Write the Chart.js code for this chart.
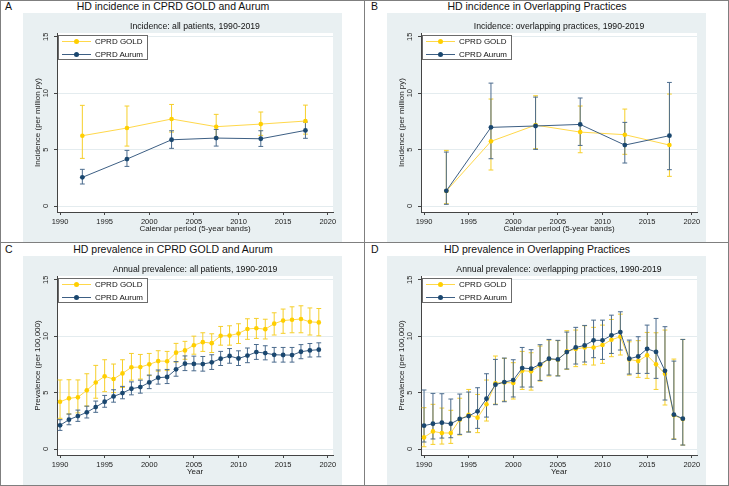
<!DOCTYPE html>
<html>
<head>
<meta charset="utf-8">
<title>HD incidence and prevalence in CPRD GOLD and Aurum</title>
<script src="https://cdn.jsdelivr.net/npm/chart.js@4.4.1/dist/chart.umd.min.js"></script>
<style>
  body { margin: 0; background: #fff; }
  #fig { position: relative; width: 729px; height: 486px; font-family: "Liberation Sans", Arial, sans-serif; color: #111; overflow: hidden; }
  .cell { position: absolute; width: 364px; height: 243px; }
  .letter { position: absolute; top: 0; font-size: 10.5px; line-height: 12px; }
  .title { position: absolute; left: 0; width: 346px; top: 0; text-align: center; font-size: 10.5px; line-height: 12px; white-space: nowrap; }
  .region { position: absolute; left: 23px; top: 13px; width: 319px; height: 229px; background: #e9f0f2; }
  .region canvas { position: absolute; left: 0; top: 0; }
  .sub { position: absolute; left: 57px; width: 276px; top: 21px; text-align: center; font-size: 8.7px; line-height: 10px; white-space: nowrap; }
  .legend { position: absolute; left: 58px; top: 35px; width: 88px; height: 23px; border: 1px solid #6b6b6b; background: #fff; }
  .legend .row { position: absolute; left: 0; width: 88px; height: 12px; }
  .legend .ln { position: absolute; left: 3px; width: 29px; top: 5px; height: 1px; }
  .legend .dot { position: absolute; left: 14.5px; top: 3px; width: 5px; height: 5px; border-radius: 50%; }
  .legend .txt { position: absolute; left: 36px; top: 1px; font-size: 8px; line-height: 10px; white-space: nowrap; }
  .gold .ln { background: #ffd84a; }
  .gold .dot { background: #ffcf00; }
  .aurum .ln { background: #3d5f84; }
  .aurum .dot { background: #1a476f; }
  .line { position: absolute; background: #7f7f7f; }
</style>
</head>
<body>
<div id="fig">
  <div class="cell" style="left:0;top:0">
    <div class="letter" style="left:5px">A</div>
    <div class="title">HD incidence in CPRD GOLD and Aurum</div>
    <div class="region"><canvas id="cA" width="319" height="229"></canvas></div>
    <div class="sub">Incidence: all patients, 1990-2019</div>
    <div class="legend">
      <div class="row gold" style="top:0"><div class="ln"></div><div class="dot"></div><div class="txt">CPRD GOLD</div></div>
      <div class="row aurum" style="top:13px"><div class="ln"></div><div class="dot"></div><div class="txt">CPRD Aurum</div></div>
    </div>
  </div>
  <div class="cell" style="left:364px;top:0">
    <div class="letter" style="left:7px">B</div>
    <div class="title">HD incidence in Overlapping Practices</div>
    <div class="region"><canvas id="cB" width="319" height="229"></canvas></div>
    <div class="sub">Incidence: overlapping practices, 1990-2019</div>
    <div class="legend">
      <div class="row gold" style="top:0"><div class="ln"></div><div class="dot"></div><div class="txt">CPRD GOLD</div></div>
      <div class="row aurum" style="top:13px"><div class="ln"></div><div class="dot"></div><div class="txt">CPRD Aurum</div></div>
    </div>
  </div>
  <div class="cell" style="left:0;top:243px">
    <div class="letter" style="left:5px">C</div>
    <div class="title">HD prevalence in CPRD GOLD and Aurum</div>
    <div class="region"><canvas id="cC" width="319" height="229"></canvas></div>
    <div class="sub">Annual prevalence: all patients, 1990-2019</div>
    <div class="legend">
      <div class="row gold" style="top:0"><div class="ln"></div><div class="dot"></div><div class="txt">CPRD GOLD</div></div>
      <div class="row aurum" style="top:13px"><div class="ln"></div><div class="dot"></div><div class="txt">CPRD Aurum</div></div>
    </div>
  </div>
  <div class="cell" style="left:364px;top:243px">
    <div class="letter" style="left:7px">D</div>
    <div class="title">HD prevalence in Overlapping Practices</div>
    <div class="region"><canvas id="cD" width="319" height="229"></canvas></div>
    <div class="sub">Annual prevalence: overlapping practices, 1990-2019</div>
    <div class="legend">
      <div class="row gold" style="top:0"><div class="ln"></div><div class="dot"></div><div class="txt">CPRD GOLD</div></div>
      <div class="row aurum" style="top:13px"><div class="ln"></div><div class="dot"></div><div class="txt">CPRD Aurum</div></div>
    </div>
  </div>
  <div class="line" style="left:0;top:0;width:1px;height:486px"></div>
  <div class="line" style="left:728px;top:0;width:1px;height:486px"></div>
  <div class="line" style="left:0;top:0;width:729px;height:1px"></div>
  <div class="line" style="left:0;top:485px;width:729px;height:1px"></div>
  <div class="line" style="left:364px;top:0;width:1px;height:486px"></div>
  <div class="line" style="left:0;top:242px;width:729px;height:1px"></div>
</div>

<script>
// x values
var periods = [1992.5, 1997.5, 2002.5, 2007.5, 2012.5, 2017.5]
var years = [1990, 1991, 1992, 1993, 1994, 1995, 1996, 1997, 1998, 1999,
             2000, 2001, 2002, 2003, 2004, 2005, 2006, 2007, 2008, 2009,
             2010, 2011, 2012, 2013, 2014, 2015, 2016, 2017, 2018, 2019]
var xTicks = [1990, 1995, 2000, 2005, 2010, 2015, 2020]
var yTicks = [0, 5, 10, 15]

// A: incidence, all patients
var incAllGold = [6.23, 6.91, 7.71, 7.03, 7.26, 7.53]
var incAllGoldLo = [4.22, 5.31, 6.55, 6.08, 6.26, 6.37]
var incAllGoldHi = [8.92, 8.86, 9.0, 8.12, 8.33, 8.94]
var incAllAurum = [2.54, 4.16, 5.87, 6.02, 5.96, 6.70]
var incAllAurumLo = [1.95, 3.51, 5.11, 5.31, 5.28, 6.0]
var incAllAurumHi = [3.25, 4.93, 6.67, 6.79, 6.67, 7.44]

// B: incidence, overlapping practices
var incOvGold = [1.33, 5.73, 7.17, 6.55, 6.32, 5.40]
var incOvGoldLo = [0.21, 3.19, 5.08, 4.72, 4.58, 2.63]
var incOvGoldHi = [4.93, 9.48, 9.77, 8.86, 8.59, 9.92]
var incOvAurum = [1.35, 6.97, 7.09, 7.23, 5.40, 6.23]
var incOvAurumLo = [0.15, 4.19, 5.02, 5.37, 3.81, 3.22]
var incOvAurumHi = [4.78, 10.89, 9.65, 9.57, 7.41, 10.95]

// C: prevalence, all patients
var prevAllGold = [4.19, 4.49, 4.58, 5.2, 5.9, 6.44, 6.2, 6.7, 7.24, 7.26,
                   7.5, 7.79, 7.78, 8.54, 8.74, 9.2, 9.47, 9.38, 10.03, 10.05,
                   10.24, 10.64, 10.7, 10.62, 11.11, 11.38, 11.45, 11.52, 11.27, 11.22]
var prevAllGoldLo = [2.72, 3.1, 3.2, 3.8, 4.5, 5.08, 5.0, 5.45, 6.1, 6.2,
                     6.5, 6.9, 6.95, 7.7, 7.95, 8.4, 8.65, 8.55, 9.2, 9.2,
                     9.35, 9.72, 9.8, 9.75, 10.1, 10.25, 10.3, 10.3, 10.1, 10.03]
var prevAllGoldHi = [6.12, 6.14, 6.12, 6.67, 7.41, 7.91, 7.53, 7.91, 8.47, 8.38,
                     8.47, 8.71, 8.65, 9.36, 9.54, 10.0, 10.3, 10.21, 10.86, 10.92,
                     11.1, 11.54, 11.57, 11.5, 12.07, 12.4, 12.6, 12.69, 12.5, 12.45]
var prevAllAurum = [2.1, 2.6, 2.92, 3.25, 3.72, 4.19, 4.66, 4.96, 5.34, 5.49,
                    5.9, 6.32, 6.38, 7.06, 7.56, 7.54, 7.53, 7.68, 8.0, 8.24,
                    8.02, 8.28, 8.59, 8.5, 8.35, 8.33, 8.32, 8.62, 8.74, 8.8]
var prevAllAurumLo = [1.65, 2.15, 2.45, 2.75, 3.25, 3.7, 4.15, 4.45, 4.8, 4.95,
                      5.35, 5.75, 5.8, 6.45, 6.95, 6.93, 6.9, 7.05, 7.4, 7.6,
                      7.4, 7.65, 7.94, 7.9, 7.7, 7.7, 7.7, 8.0, 8.15, 8.17]
var prevAllAurumHi = [2.6, 3.1, 3.45, 3.8, 4.25, 4.75, 5.25, 5.55, 5.95, 6.1,
                      6.55, 7.0, 7.05, 7.75, 8.25, 8.23, 8.2, 8.35, 8.65, 8.9,
                      8.7, 8.95, 9.26, 9.15, 9.0, 9.0, 9.0, 9.25, 9.35, 9.41]

// D: prevalence, overlapping practices
var prevOvGold = [1.03, 1.56, 1.42, 1.42, 2.6, 3.04, 2.78, 3.96, 5.82, 5.9,
                  5.85, 6.94, 6.88, 7.41, 7.97, 7.91, 8.65, 8.86, 9.0, 9.0,
                  9.21, 9.68, 9.95, 7.94, 7.79, 8.3, 7.5, 6.67, 3.0, 2.65]
var prevOvGoldLo = [0.2, 0.41, 0.44, 0.5, 1.24, 1.53, 1.45, 2.48, 3.98, 4.25,
                    4.43, 5.28, 5.22, 6.02, 6.47, 6.5, 7.06, 7.3, 7.47, 7.44,
                    7.59, 8.18, 8.33, 6.55, 6.35, 6.26, 5.28, 3.9, 0.9, 0.35]
var prevOvGoldHi = [3.66, 3.96, 3.63, 3.43, 4.5, 5.28, 4.84, 6.11, 8.24, 8.03,
                    7.65, 8.65, 8.53, 9.12, 9.65, 9.6, 10.48, 10.54, 10.92, 10.78,
                    10.98, 11.48, 11.95, 9.5, 9.6, 10.33, 10.3, 10.54, 7.97, 9.71]
var prevOvAurum = [2.07, 2.24, 2.33, 2.24, 2.66, 2.92, 3.34, 4.46, 5.7, 5.93,
                   6.11, 7.17, 7.12, 7.5, 8.0, 7.94, 8.59, 9.0, 9.18, 9.63,
                   9.63, 10.07, 10.36, 8.0, 8.2, 8.88, 8.6, 6.93, 3.04, 2.69]
var prevOvAurumLo = [0.62, 0.89, 0.97, 1.0, 1.3, 1.5, 1.83, 2.83, 3.93, 4.19,
                     4.61, 5.49, 5.49, 6.08, 6.55, 6.47, 7.09, 7.53, 7.71, 8.09,
                     7.94, 8.47, 8.77, 6.64, 6.7, 6.7, 6.26, 4.34, 0.86, 0.35]
var prevOvAurumHi = [5.23, 4.93, 4.9, 4.43, 4.87, 5.05, 5.43, 6.67, 7.94, 8.06,
                     7.91, 9.0, 8.8, 9.24, 9.71, 9.63, 10.36, 10.78, 10.95, 11.42,
                     11.42, 11.86, 12.16, 9.65, 9.95, 10.98, 11.57, 10.84, 7.79, 9.71]

var fontFamily = "'Liberation Sans', Arial, sans-serif"
Chart.defaults.font.family = fontFamily
Chart.defaults.color = '#222'

var plotBg = {
    id: 'plotBg',
    beforeDraw: function(chart){
        var a = chart.chartArea, ctx = chart.ctx
        ctx.save()
        ctx.fillStyle = '#ffffff'
        ctx.fillRect(a.left, a.top, a.right - a.left, a.bottom - a.top)
        ctx.restore()
    }
}

// confidence interval caps, drawn under the lines
var errorBars = {
    id: 'errorBars',
    beforeDatasetsDraw: function(chart){
        var ctx = chart.ctx, sx = chart.scales.x, sy = chart.scales.y
        for (var d = chart.data.datasets.length - 1; d >= 0; d--) {
            var ds = chart.data.datasets[d]
            ctx.save()
            ctx.strokeStyle = ds.barColor
            ctx.lineWidth = 1
            ctx.beginPath()
            for (var i = 0; i < ds.data.length; i++) {
                var px = sx.getPixelForValue(ds.data[i].x)
                var lo = sy.getPixelForValue(ds.lo[i])
                var hi = sy.getPixelForValue(ds.hi[i])
                ctx.moveTo(px, lo); ctx.lineTo(px, hi)
                ctx.moveTo(px - 2.4, lo); ctx.lineTo(px + 2.4, lo)
                ctx.moveTo(px - 2.4, hi); ctx.lineTo(px + 2.4, hi)
            }
            ctx.stroke()
            ctx.restore()
        }
    }
}

// stata style vertical y labels
var yLabels = {
    id: 'yLabels',
    afterDraw: function(chart){
        var ctx = chart.ctx, sy = chart.scales.y
        ctx.save()
        ctx.font = '7.5px ' + fontFamily
        ctx.fillStyle = '#222'
        ctx.textAlign = 'center'
        ctx.textBaseline = 'middle'
        yTicks.forEach(function(v){
            ctx.save()
            ctx.translate(sy.right - 11, sy.getPixelForValue(v))
            ctx.rotate(-Math.PI / 2)
            ctx.fillText(String(v), 0, 0)
            ctx.restore()
        })
        ctx.restore()
    }
}

function panel(id, xs, gold, goldLo, goldHi, aurum, aurumLo, aurumHi, yTitle, xTitle){
    function pts(ys){
        return xs.map(function(x, i){ return {x: x, y: ys[i]} })
    }
    new Chart(document.getElementById(id), {
        type: 'line',
        data: {
            datasets: [
                {
                    label: 'CPRD Aurum', data: pts(aurum), lo: aurumLo, hi: aurumHi,
                    barColor: '#4b6b8d', borderColor: '#3d5f84', borderWidth: 1,
                    pointRadius: 2.4, pointBackgroundColor: '#1a476f', pointBorderWidth: 0
                },
                {
                    label: 'CPRD GOLD', data: pts(gold), lo: goldLo, hi: goldHi,
                    barColor: '#f6cf2a', borderColor: '#ffd84a', borderWidth: 1,
                    pointRadius: 2.3, pointBackgroundColor: '#ffcf00', pointBorderWidth: 0
                }
            ]
        },
        options: {
            responsive: false,
            animation: false,
            events: [],
            layout: {padding: {top: 20, right: 9, left: 0, bottom: 0}},
            plugins: {legend: {display: false}, tooltip: {enabled: false}},
            scales: {
                x: {
                    type: 'linear', min: 1989.66, max: 2020.59,
                    afterBuildTicks: function(s){ s.ticks = xTicks.map(function(v){ return {value: v} }) },
                    afterFit: function(s){ s.height = 30 },
                    grid: {drawOnChartArea: false, tickLength: 3, tickColor: '#444'},
                    border: {color: '#444'},
                    ticks: {font: {size: 7.5}, color: '#222', padding: 2, maxRotation: 0,
                            callback: function(v){ return String(v) }},
                    title: {display: true, text: xTitle, font: {size: 8}, color: '#222',
                            padding: {top: 0, bottom: 8.2}}
                },
                y: {
                    type: 'linear', min: -0.53, max: 15.33,
                    afterBuildTicks: function(s){ s.ticks = yTicks.map(function(v){ return {value: v} }) },
                    afterFit: function(s){ s.width = 34 },
                    grid: {color: '#e4ecef', tickLength: 3, tickColor: '#444'},
                    border: {color: '#444'},
                    ticks: {display: false},
                    title: {display: true, text: yTitle, font: {size: 8}, color: '#222',
                            padding: {top: 9.7, bottom: 0}}
                }
            }
        },
        plugins: [plotBg, errorBars, yLabels]
    })
}

panel('cA', periods, incAllGold, incAllGoldLo, incAllGoldHi, incAllAurum, incAllAurumLo, incAllAurumHi,
      'Incidence (per million py)', 'Calendar period (5-year bands)')
panel('cB', periods, incOvGold, incOvGoldLo, incOvGoldHi, incOvAurum, incOvAurumLo, incOvAurumHi,
      'Incidence (per million py)', 'Calendar period (5-year bands)')
panel('cC', years, prevAllGold, prevAllGoldLo, prevAllGoldHi, prevAllAurum, prevAllAurumLo, prevAllAurumHi,
      'Prevalence (per 100,000)', 'Year')
panel('cD', years, prevOvGold, prevOvGoldLo, prevOvGoldHi, prevOvAurum, prevOvAurumLo, prevOvAurumHi,
      'Prevalence (per 100,000)', 'Year')
</script>
</body>
</html>
